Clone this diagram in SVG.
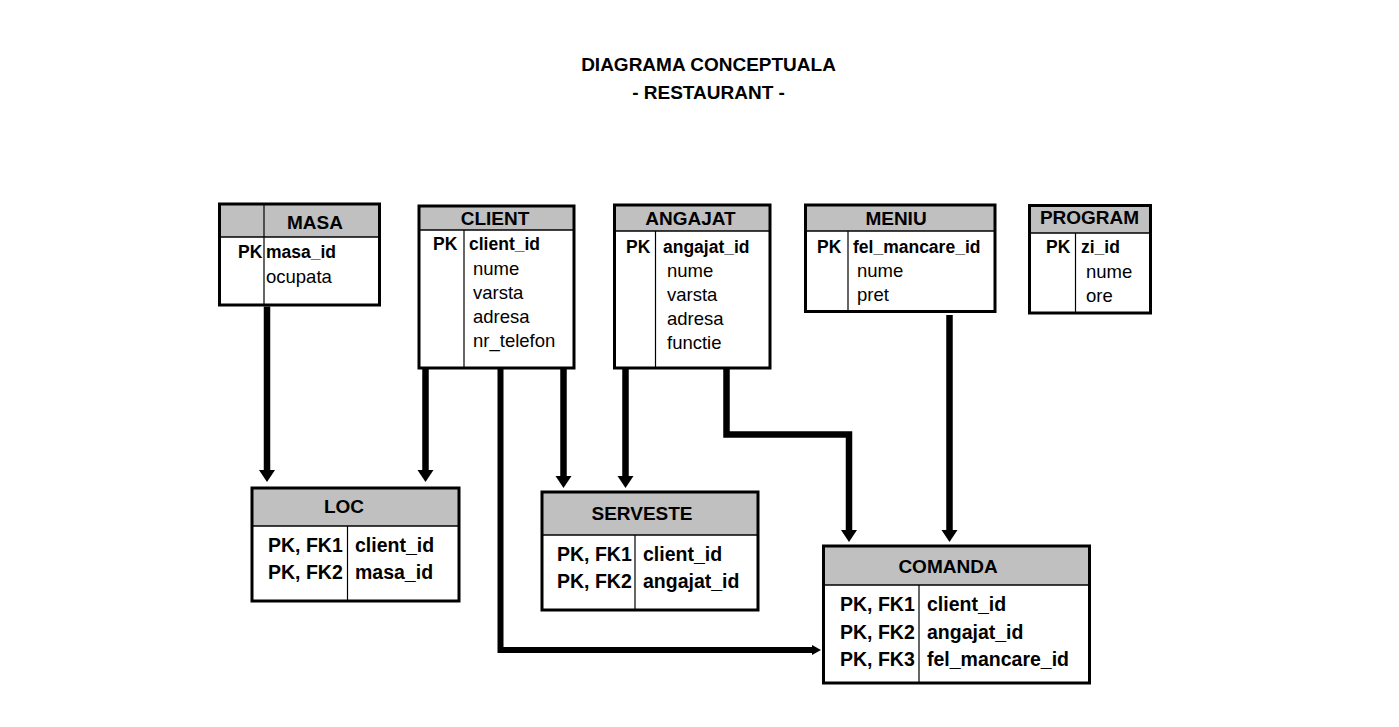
<svg xmlns="http://www.w3.org/2000/svg" width="1399" height="727" viewBox="0 0 1399 727">
<defs>
<style>
text{font-family:"Liberation Sans",Arial,sans-serif;fill:#000}
.t{font-weight:bold;font-size:19px;text-anchor:middle}
.h{font-weight:bold;font-size:19px;text-anchor:middle}
.b{font-weight:bold;font-size:17.5px}
.r{font-size:18.5px}
.bb{font-weight:bold;font-size:19.5px}
.bg{fill:#fff;stroke:none}
.hd{fill:#c0c0c0;stroke:none}
.out{fill:none;stroke:#000;stroke-width:3}
.sep{stroke:#000;stroke-width:1.6}
.dv{stroke:#000;stroke-width:1.2}
.conn{fill:none;stroke:#000;stroke-width:6.5;stroke-linejoin:miter}
.thin{stroke-width:6}
</style>
<marker id="ah" markerUnits="userSpaceOnUse" markerWidth="14" markerHeight="18" refX="1" refY="9" orient="auto"><path d="M0,1 L12,9 L0,17 Z" fill="#000"/></marker>
<marker id="ahs" markerUnits="userSpaceOnUse" markerWidth="11" markerHeight="12" refX="1" refY="6" orient="auto"><path d="M0,1 L9,6 L0,11 Z" fill="#000"/></marker>
</defs>
<rect width="1399" height="727" fill="#fff"/>
<g id="title">
<text class="t" x="708.5" y="71">DIAGRAMA CONCEPTUALA</text>
<text class="t" x="708.5" y="98.5">- RESTAURANT -</text>
</g>
<g id="connectors">
<path class="conn" d="M267,306.5 V471" marker-end="url(#ah)"/>
<path class="conn" d="M425.5,369 V471" marker-end="url(#ah)"/>
<path class="conn" d="M563.5,369 V477" marker-end="url(#ah)"/>
<path class="conn" d="M625.5,369 V477" marker-end="url(#ah)"/>
<path class="conn" d="M726.5,369 V434.5 H849 V531" marker-end="url(#ah)"/>
<path class="conn" d="M949.5,315 V531" marker-end="url(#ah)"/>
<path class="conn thin" d="M500.5,369 V650 H813" marker-end="url(#ahs)"/>
</g>
<g id="masa">
<rect class="bg" x="219.5" y="204" width="160" height="101"/>
<rect class="hd" x="219.5" y="204" width="160" height="33"/>
<line class="sep" x1="219.5" y1="237" x2="379.5" y2="237"/>
<line class="dv" x1="264" y1="204" x2="264" y2="305"/>
<rect class="out" x="219.5" y="204" width="160" height="101"/>
<text class="h" x="315" y="228.5">MASA</text>
<text class="b" x="238" y="258">PK</text>
<text class="b" x="266" y="258">masa_id</text>
<text class="r" x="266" y="283">ocupata</text>
</g>
<g id="client">
<rect class="bg" x="419" y="206" width="155" height="162"/>
<rect class="hd" x="419" y="206" width="155" height="24"/>
<line class="sep" x1="419" y1="230" x2="574" y2="230"/>
<line class="dv" x1="464" y1="230" x2="464" y2="368"/>
<rect class="out" x="419" y="206" width="155" height="162"/>
<text class="h" x="495" y="224.5">CLIENT</text>
<text class="b" x="433" y="250">PK</text>
<text class="b" x="469" y="250">client_id</text>
<text class="r" x="473" y="275">nume</text>
<text class="r" x="473" y="299">varsta</text>
<text class="r" x="473" y="323">adresa</text>
<text class="r" x="473" y="347">nr_telefon</text>
</g>
<g id="angajat">
<rect class="bg" x="614.5" y="205" width="155.5" height="163"/>
<rect class="hd" x="614.5" y="205" width="155.5" height="26"/>
<line class="sep" x1="614.5" y1="231" x2="770" y2="231"/>
<line class="dv" x1="655.5" y1="231" x2="655.5" y2="368"/>
<rect class="out" x="614.5" y="205" width="155.5" height="163"/>
<text class="h" x="690.5" y="224.5">ANGAJAT</text>
<text class="b" x="626" y="253">PK</text>
<text class="b" x="663" y="253">angajat_id</text>
<text class="r" x="667" y="277">nume</text>
<text class="r" x="667" y="301">varsta</text>
<text class="r" x="667" y="325">adresa</text>
<text class="r" x="667" y="349">functie</text>
</g>
<g id="meniu">
<rect class="bg" x="805.5" y="205" width="189.5" height="106.5"/>
<rect class="hd" x="805.5" y="205" width="189.5" height="26"/>
<line class="sep" x1="805.5" y1="231" x2="995" y2="231"/>
<line class="dv" x1="848" y1="231" x2="848" y2="311.5"/>
<rect class="out" x="805.5" y="205" width="189.5" height="106.5"/>
<text class="h" x="896" y="224.5">MENIU</text>
<text class="b" x="817" y="252.5">PK</text>
<text class="b" x="853" y="252.5">fel_mancare_id</text>
<text class="r" x="857" y="277">nume</text>
<text class="r" x="857" y="301">pret</text>
</g>
<g id="program">
<rect class="bg" x="1029.5" y="205.5" width="121" height="107.5"/>
<rect class="hd" x="1029.5" y="205.5" width="121" height="27.5"/>
<line class="sep" x1="1029.5" y1="233" x2="1150.5" y2="233"/>
<line class="dv" x1="1075.5" y1="233" x2="1075.5" y2="313"/>
<rect class="out" x="1029.5" y="205.5" width="121" height="107.5"/>
<text class="h" x="1089.5" y="223.5">PROGRAM</text>
<text class="b" x="1046" y="253">PK</text>
<text class="b" x="1081" y="253">zi_id</text>
<text class="r" x="1086" y="278">nume</text>
<text class="r" x="1086" y="302">ore</text>
</g>
<g id="loc">
<rect class="bg" x="252" y="488" width="207" height="113"/>
<rect class="hd" x="252" y="488" width="207" height="38"/>
<line class="sep" x1="252" y1="526" x2="459" y2="526"/>
<line class="dv" x1="347.5" y1="526" x2="347.5" y2="601"/>
<rect class="out" x="252" y="488" width="207" height="113"/>
<text class="h" x="344" y="512.5">LOC</text>
<text class="bb" x="268" y="551.5">PK, FK1</text>
<text class="bb" x="268" y="579">PK, FK2</text>
<text class="bb" x="355" y="551.5">client_id</text>
<text class="bb" x="355" y="579">masa_id</text>
</g>
<g id="serveste">
<rect class="bg" x="542" y="492" width="216" height="118"/>
<rect class="hd" x="542" y="492" width="216" height="43"/>
<line class="sep" x1="542" y1="535" x2="758" y2="535"/>
<line class="dv" x1="635" y1="535" x2="635" y2="610"/>
<rect class="out" x="542" y="492" width="216" height="118"/>
<text class="h" x="642" y="520">SERVESTE</text>
<text class="bb" x="557" y="560.5">PK, FK1</text>
<text class="bb" x="557" y="588">PK, FK2</text>
<text class="bb" x="643" y="560.5">client_id</text>
<text class="bb" x="643" y="588">angajat_id</text>
</g>
<g id="comanda">
<rect class="bg" x="823.5" y="546" width="266" height="137"/>
<rect class="hd" x="823.5" y="546" width="266" height="39"/>
<line class="sep" x1="823.5" y1="585" x2="1089.5" y2="585"/>
<line class="dv" x1="919" y1="585" x2="919" y2="683"/>
<rect class="out" x="823.5" y="546" width="266" height="137"/>
<text class="h" x="948" y="573">COMANDA</text>
<text class="bb" x="840" y="611">PK, FK1</text>
<text class="bb" x="840" y="638.5">PK, FK2</text>
<text class="bb" x="840" y="666">PK, FK3</text>
<text class="bb" x="927" y="611">client_id</text>
<text class="bb" x="927" y="638.5">angajat_id</text>
<text class="bb" x="927" y="666">fel_mancare_id</text>
</g>
</svg>
